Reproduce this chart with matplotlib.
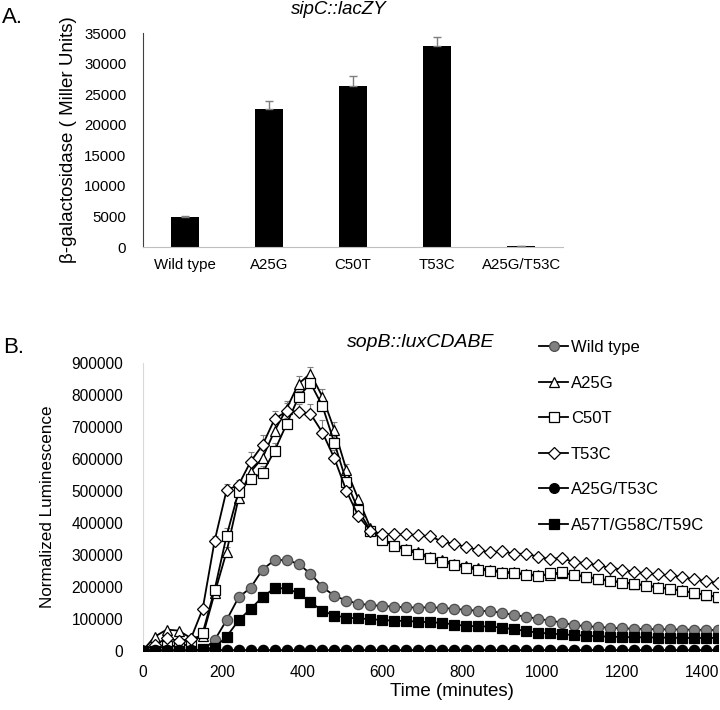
import numpy as np
import matplotlib
matplotlib.use("Agg")
import matplotlib.pyplot as plt

plt.rcParams['font.family'] = ['Liberation Sans', 'DejaVu Sans']

# ---------------- Panel A data ----------------
strains_a = ["Wild type", "A25G", "C50T", "T53C", "A25G/T53C"]
miller = [4900, 22600, 26350, 32900, 150]
miller_err = [100, 1300, 1600, 1400, 30]

# ---------------- Panel B data ----------------
time_min = list(range(0, 1441, 30))

wild_type = [0, 0, 0, 0, 0, 2000, 33000, 96000, 167000, 197000, 254000, 284000,
             284000, 272000, 241000, 199000, 172000, 157000, 147000, 143000,
             140000, 138000, 136000, 135000, 136000, 134000, 131000, 128000,
             125000, 124000, 118000, 112000, 106000, 100000, 94000, 88000,
             80000, 77000, 74000, 72000, 70000, 69000, 68000, 67000, 67000,
             66000, 66000, 65000, 65000]

a25g = [0, 44000, 66000, 63000, 40000, 45000, 180000, 310000, 478000, 560000,
        604000, 688000, 757000, 836000, 868000, 795000, 691000, 566000,
        474000, 385000, 350000, 332000, 320000, 308000, 294000, 284000,
        273000, 265000, 258000, 254000, 248000, 245000, 240000, 236000,
        238000, 242000, 240000, 232000, 226000, 220000, 215000, 210000,
        205000, 199000, 194000, 189000, 181000, 175000, 168000]

c50t = [0, 5000, 15000, 15000, 20000, 55000, 191000, 360000, 498000, 537000,
        557000, 626000, 709000, 794000, 838000, 766000, 650000, 529000,
        440000, 376000, 347000, 328000, 315000, 303000, 289000, 279000,
        268000, 260000, 253000, 251000, 244000, 242000, 237000, 234000,
        242000, 245000, 237000, 230000, 224000, 218000, 213000, 209000,
        204000, 197000, 193000, 188000, 180000, 174000, 167000]

t53c = [0, 18000, 39000, 31000, 36000, 130000, 344000, 503000, 519000, 592000,
        644000, 725000, 750000, 749000, 742000, 683000, 602000, 500000,
        421000, 376000, 365000, 364000, 364000, 362000, 358000, 342000,
        334000, 325000, 315000, 308000, 312000, 303000, 304000, 294000,
        287000, 291000, 277000, 275000, 267000, 260000, 254000, 247000,
        242000, 239000, 236000, 231000, 224000, 218000, 212000]

a25g_t53c = [0, 1000, 1500, 1500, 1500, 1500, 2000, 2000, 2000, 2000, 2000,
             2000, 2000, 2000, 2000, 2000, 2000, 2000, 2000, 2000, 2000, 2000,
             2000, 2000, 2000, 2000, 2000, 2000, 2000, 2000, 2000, 2000, 2000,
             2000, 2000, 2000, 2000, 2000, 2000, 2000, 2000, 2000, 2000, 2000,
             2000, 2000, 2000, 2000, 2000]

a57t = [0, 0, 0, 0, 0, 5000, 10000, 44000, 95000, 131000, 168000, 196000,
        195000, 180000, 152000, 125000, 110000, 104000, 101000, 99000, 96000,
        94000, 93000, 91000, 89000, 87000, 82000, 78000, 76000, 76000, 72000,
        67000, 62000, 56000, 54000, 51000, 49000, 47000, 45000, 44000, 43000,
        42000, 42000, 41000, 41000, 40000, 40000, 40000, 40000]

# upper error bars (sparse), time points and magnitudes
a25g_err_t = [210, 240, 270, 300, 330, 360, 390, 420, 450, 480, 510]
a25g_err = [15000, 20000, 20000, 25000, 25000, 25000, 25000, 20000, 25000, 25000, 20000]
c50t_err_t = [210, 240, 270, 300, 330, 360, 390, 420, 450, 480]
c50t_err = [25000, 15000, 20000, 20000, 25000, 20000, 20000, 20000, 20000, 25000]
t53c_err_t = [180, 210, 240, 270, 300, 330, 360, 390, 420, 450, 480]
t53c_err = [15000, 20000, 15000, 30000, 30000, 25000, 25000, 25000, 30000, 40000, 25000]

fig = plt.figure(figsize=(7.2, 7.1), dpi=100)

# ================= Panel A =================
axA = fig.add_axes([0.1986, 0.652, 0.5834, 0.3015])
xa = np.arange(len(strains_a))
axA.bar(xa, miller, width=0.33, color='black', zorder=2)
axA.errorbar(xa, miller, yerr=[np.zeros(len(miller)), miller_err], fmt='none',
             ecolor='#7f7f7f', elinewidth=1.0, capsize=3, capthick=1.0, zorder=3)
axA.set_xlim(-0.5, len(strains_a) - 0.5)
axA.set_ylim(0, 35000)
axA.set_yticks(np.arange(0, 35001, 5000))
axA.set_xticks(xa)
axA.set_xticklabels(strains_a)
axA.tick_params(axis='both', length=0, labelsize=10.8, pad=8)
axA.tick_params(axis='y', pad=12)
for s in ['top', 'right']:
    axA.spines[s].set_visible(False)
axA.spines['left'].set_color('#404040')
axA.spines['left'].set_linewidth(0.8)
axA.spines['bottom'].set_color('#bfbfbf')
axA.spines['bottom'].set_linewidth(0.8)
axA.set_ylabel("β-galactosidase ( Miller Units)", fontsize=13.5, labelpad=5)
fig.text(0.471, 0.986, "sipC::lacZY", fontsize=13.5, style='italic', ha='center', va='center')
fig.text(0.003, 0.976, "A.", fontsize=16, ha='left', va='center')

# ================= Panel B =================
axB = fig.add_axes([0.1982, 0.0835, 0.7990, 0.4048])
lw = 1.3
ms = 7.4
mew = 0.9
l1, = axB.plot(time_min, wild_type, '-o', color='black', lw=lw, ms=ms,
               mfc='#808080', mec='#4d4d4d', mew=mew, label='Wild type', zorder=3)
axB.errorbar(a25g_err_t, [a25g[time_min.index(t)] for t in a25g_err_t],
             yerr=[np.zeros(len(a25g_err)), a25g_err], fmt='none', ecolor='#7f7f7f',
             elinewidth=0.8, capsize=2.5, capthick=0.8, zorder=2)
axB.errorbar(c50t_err_t, [c50t[time_min.index(t)] for t in c50t_err_t],
             yerr=[np.zeros(len(c50t_err)), c50t_err], fmt='none', ecolor='#7f7f7f',
             elinewidth=0.8, capsize=2.5, capthick=0.8, zorder=2)
axB.errorbar(t53c_err_t, [t53c[time_min.index(t)] for t in t53c_err_t],
             yerr=[np.zeros(len(t53c_err)), t53c_err], fmt='none', ecolor='#7f7f7f',
             elinewidth=0.8, capsize=2.5, capthick=0.8, zorder=2)
l2, = axB.plot(time_min, a25g, '-^', color='black', lw=lw, ms=ms,
               mfc='white', mec='black', mew=mew, label='A25G', zorder=3)
l3, = axB.plot(time_min, c50t, '-s', color='black', lw=lw, ms=ms,
               mfc='white', mec='black', mew=mew, label='C50T', zorder=3)
l4, = axB.plot(time_min, t53c, '-D', color='black', lw=lw, ms=ms * 0.85,
               mfc='white', mec='black', mew=mew, label='T53C', zorder=3)
l5, = axB.plot(time_min, a25g_t53c, '-o', color='black', lw=lw, ms=ms,
               mfc='black', mec='black', mew=mew, label='A25G/T53C', zorder=3)
l6, = axB.plot(time_min, a57t, '-s', color='black', lw=lw, ms=ms,
               mfc='black', mec='black', mew=mew, label='A57T/G58C/T59C', zorder=3)

axB.set_xlim(0, 1440)
axB.set_ylim(0, 900000)
axB.set_xticks(np.arange(0, 1401, 200))
axB.set_yticks(np.arange(0, 900001, 100000))
axB.tick_params(axis='both', length=0, labelsize=11.2)
axB.tick_params(axis='x', pad=10)
axB.tick_params(axis='y', pad=14)
for s in ['top', 'right']:
    axB.spines[s].set_visible(False)
axB.spines['left'].set_color('#d9d9d9')
axB.spines['bottom'].set_color('#d9d9d9')
axB.set_xlabel("Time (minutes)", fontsize=13.5)
axB.xaxis.set_label_coords(0.537, -0.113)
axB.set_ylabel("Normalized Luminescence", fontsize=12.3, labelpad=12)
fig.text(0.585, 0.517, "sopB::luxCDABE", fontsize=14, style='italic', ha='center', va='center')
fig.text(0.005, 0.51, "B.", fontsize=16, ha='left', va='center')

leg = fig.legend(handles=[l1, l2, l3, l4, l5, l6], loc='upper left',
                 bbox_to_anchor=(0.749, 0.521), frameon=False, fontsize=12,
                 handlelength=1.75, handletextpad=0.15, labelspacing=1.23,
                 borderpad=0, borderaxespad=0, markerscale=0.95)

fig.savefig("out.png", dpi=100)
